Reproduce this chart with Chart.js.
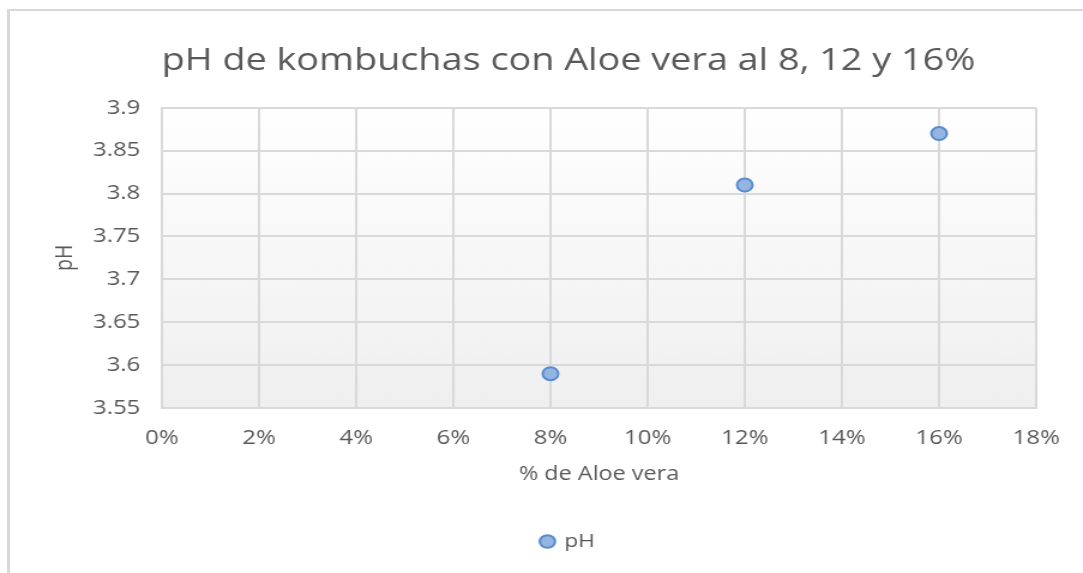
<!DOCTYPE html>
<html>
<head>
<meta charset="utf-8">
<script src="https://cdn.jsdelivr.net/npm/chart.js@4/dist/chart.umd.min.js"></script>
<style>
  html, body { margin: 0; padding: 0; background: #ffffff; overflow: hidden; width: 1083px; height: 573px; }
  #frame { position: absolute; left: 7px; top: 9px; width: 1200px; height: 700px;
           border-left: 3px solid #d9d9d9; border-top: 2px solid #d9d9d9; }
  #wrap { position: absolute; left: 0; top: 0; width: 903px; height: 573px;
          transform: scaleX(1.1993); transform-origin: 0 0; }
</style>
</head>
<body>
<div id="frame"></div>
<div id="wrap"><canvas id="c"></canvas></div>
<script>
const chartTitle = 'pH de kombuchas con Aloe vera al 8, 12 y 16%';
const xAxisTitle = '% de Aloe vera';
const yAxisTitle = 'pH';
const seriesName = 'pH';
const aloePercent = [0.08, 0.12, 0.16];
const phValues = [3.59, 3.81, 3.87];
const xTickLabels = ['0%', '2%', '4%', '6%', '8%', '10%', '12%', '14%', '16%', '18%'];
const yTickLabels = ['3.55', '3.6', '3.65', '3.7', '3.75', '3.8', '3.85', '3.9'];

const textColor = '#595959';
const gridColor = '#d9d9d9';
const fontFamily = "'Open Sans', 'DejaVu Sans', sans-serif";

const plotBg = {
  id: 'plotBg',
  beforeDraw(chart) {
    const {ctx, chartArea: a} = chart;
    const g = ctx.createLinearGradient(0, a.top, 0, a.bottom);
    g.addColorStop(0, '#ffffff');
    g.addColorStop(1, '#efefef');
    ctx.save();
    ctx.fillStyle = g;
    ctx.fillRect(a.left, a.top, a.right - a.left, a.bottom - a.top);
    ctx.restore();
  }
};

new Chart(document.getElementById('c'), {
  type: 'scatter',
  data: {
    datasets: [{
      label: seriesName,
      data: aloePercent.map((x, i) => ({x: x, y: phValues[i]})),
      backgroundColor: '#92b5e2',
      borderColor: '#5a8bd0',
      borderWidth: 2,
      pointRadius: 6.5,
      pointHoverRadius: 6.5
    }]
  },
  options: {
    responsive: true,
    maintainAspectRatio: false,
    animation: false,
    layout: { padding: { left: 45, right: 0, top: 0, bottom: 12 } },
    plugins: {
      title: {
        display: true,
        text: chartTitle,
        color: textColor,
        font: { family: fontFamily, size: 31.5, weight: 'normal', lineHeight: 1.2 },
        padding: { top: 42, bottom: 28 }
      },
      legend: {
        display: true,
        position: 'bottom',
        labels: {
          usePointStyle: true,
          pointStyle: 'circle',
          color: textColor,
          font: { family: fontFamily, size: 19 },
          padding: 10,
          boxWidth: 9,
          boxHeight: 9
        }
      },
      tooltip: { enabled: false }
    },
    scales: {
      x: {
        type: 'linear',
        min: 0, max: 0.18,
        ticks: {
          stepSize: 0.02,
          color: textColor,
          font: { family: fontFamily, size: 20 },
          padding: 18,
          maxRotation: 0,
          autoSkip: false,
          callback: (v, i) => xTickLabels[i]
        },
        grid: { color: gridColor, lineWidth: 2, drawTicks: false },
        border: { color: gridColor, width: 2 },
        title: {
          display: true, text: xAxisTitle, color: textColor,
          font: { family: fontFamily, size: 19.5 },
          padding: { top: 0, bottom: 36 }
        },
        afterFit: s => { s.height = 114; }
      },
      y: {
        type: 'linear',
        min: 3.55, max: 3.9,
        ticks: {
          stepSize: 0.05,
          color: textColor,
          font: { family: fontFamily, size: 20 },
          padding: 18,
          autoSkip: false,
          callback: (v, i) => yTickLabels[i]
        },
        grid: { color: gridColor, lineWidth: 2, drawTicks: false },
        border: { color: gridColor, width: 2 },
        title: {
          display: true, text: yAxisTitle, color: textColor,
          font: { family: fontFamily, size: 19.5, lineHeight: 1 },
          padding: { top: 0, bottom: 0 }
        },
        afterFit: s => { s.width = 90; }
      },
      y2: {
        type: 'linear',
        position: 'right',
        display: true,
        ticks: { display: false },
        grid: { display: false, drawTicks: false },
        border: { display: false },
        afterFit: s => { s.width = 39; }
      }
    }
  },
  plugins: [plotBg]
});
</script>
</body>
</html>
